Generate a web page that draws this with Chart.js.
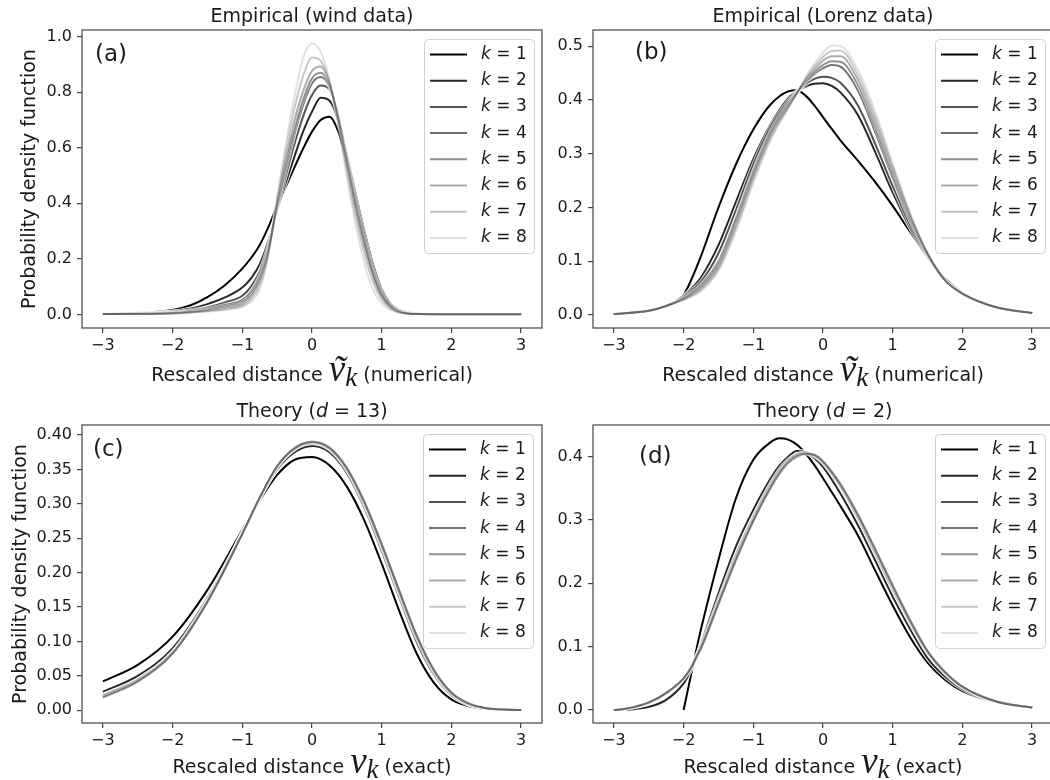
<!DOCTYPE html>
<html><head><meta charset="utf-8">
<script src="https://cdn.jsdelivr.net/npm/chart.js@4.4.1/dist/chart.umd.min.js"></script>
<style>
html,body{margin:0;padding:0;background:#fff;overflow:hidden;width:1050px;height:780px;position:relative;}
canvas{position:absolute;}
</style></head><body>
<canvas id="ca" width="550" height="390" style="left:0px;top:0px"></canvas>
<canvas id="cb" width="531" height="390" style="left:525px;top:0px"></canvas>
<canvas id="cc" width="550" height="390" style="left:0px;top:390px"></canvas>
<canvas id="cd" width="531" height="390" style="left:525px;top:390px"></canvas>
<script>
// ---------- data ----------
const kLabels = ['1','2','3','4','5','6','7','8'];
const xTicks = [-3,-2,-1,0,1,2,3];
const yTicksA = [0,0.2,0.4,0.6,0.8,1.0];
const yTicksB = [0,0.1,0.2,0.3,0.4,0.5];
const yTicksC = [0,0.05,0.10,0.15,0.20,0.25,0.30,0.35,0.40];
const yTicksD = [0,0.1,0.2,0.3,0.4];

// (a) Empirical (wind data)
const xWind = [-3,-2.5,-2,-1.75,-1.5,-1.25,-1,-0.875,-0.75,-0.625,-0.5,-0.375,-0.25,-0.125,0,0.125,0.25,0.375,0.5,0.625,0.75,0.875,1,1.125,1.25,1.5,2,2.5,3];
const windK1 = [0.003,0.006,0.016,0.032,0.062,0.105,0.165,0.203,0.250,0.315,0.390,0.460,0.530,0.598,0.658,0.700,0.712,0.660,0.550,0.430,0.300,0.180,0.090,0.040,0.017,0.004,0.001,0.0005,0.0003];
const windK2 = [0.002,0.004,0.010,0.020,0.037,0.061,0.097,0.130,0.180,0.265,0.375,0.475,0.570,0.660,0.730,0.780,0.770,0.700,0.575,0.435,0.300,0.180,0.090,0.040,0.016,0.003,0.0008,0.0004,0.0002];
const windK3 = [0.0015,0.003,0.008,0.015,0.025,0.043,0.067,0.100,0.155,0.250,0.380,0.500,0.615,0.715,0.790,0.824,0.810,0.715,0.570,0.420,0.285,0.165,0.082,0.036,0.014,0.002,0.0006,0.0003,0.0002];
const windK4 = [0.0012,0.0025,0.006,0.012,0.020,0.034,0.052,0.082,0.140,0.240,0.385,0.525,0.650,0.755,0.832,0.855,0.820,0.715,0.560,0.405,0.270,0.155,0.075,0.032,0.012,0.002,0.0005,0.0002,0.0001];
const windK5 = [0.001,0.002,0.005,0.010,0.017,0.028,0.044,0.072,0.130,0.232,0.390,0.540,0.670,0.775,0.850,0.870,0.825,0.712,0.552,0.395,0.260,0.147,0.070,0.029,0.011,0.0015,0.0004,0.0002,0.0001];
const windK6 = [0.001,0.002,0.004,0.008,0.014,0.023,0.037,0.063,0.120,0.228,0.400,0.560,0.700,0.805,0.877,0.893,0.832,0.705,0.540,0.380,0.245,0.137,0.064,0.026,0.009,0.001,0.0003,0.0001,0.0001];
const windK7 = [0.001,0.0015,0.0035,0.007,0.012,0.019,0.031,0.053,0.105,0.222,0.410,0.585,0.745,0.860,0.925,0.913,0.838,0.698,0.520,0.355,0.220,0.117,0.053,0.021,0.008,0.001,0.0002,0.0001,0.0001];
const windK8 = [0.001,0.0015,0.003,0.006,0.010,0.016,0.027,0.045,0.090,0.215,0.425,0.615,0.785,0.925,0.975,0.945,0.845,0.685,0.495,0.325,0.185,0.090,0.040,0.016,0.006,0.001,0.0002,0.0001,0.0001];

// (b) Empirical (Lorenz data)
const xLorenz = [-3,-2.5,-2.25,-2,-1.875,-1.75,-1.5,-1.25,-1,-0.75,-0.5,-0.375,-0.25,-0.125,0,0.125,0.25,0.5,0.75,1,1.25,1.5,1.75,2,2.5,3];
const lorK1 = [0.002,0.008,0.018,0.038,0.070,0.110,0.200,0.280,0.345,0.392,0.416,0.418,0.408,0.390,0.368,0.346,0.325,0.287,0.247,0.203,0.155,0.108,0.068,0.042,0.014,0.004];
const lorK2 = [0.002,0.008,0.017,0.036,0.051,0.070,0.130,0.210,0.290,0.355,0.403,0.416,0.425,0.430,0.431,0.426,0.414,0.372,0.303,0.228,0.162,0.108,0.064,0.040,0.014,0.004];
const lorK3 = [0.002,0.008,0.017,0.034,0.047,0.062,0.115,0.195,0.280,0.350,0.398,0.415,0.429,0.439,0.443,0.441,0.432,0.390,0.318,0.240,0.168,0.110,0.064,0.040,0.014,0.004];
const lorK4 = [0.002,0.008,0.017,0.032,0.043,0.056,0.100,0.180,0.268,0.343,0.394,0.414,0.432,0.448,0.459,0.465,0.462,0.418,0.340,0.255,0.175,0.112,0.065,0.040,0.014,0.004];
const lorK5 = [0.002,0.008,0.017,0.031,0.041,0.053,0.095,0.175,0.263,0.339,0.391,0.413,0.434,0.452,0.465,0.472,0.471,0.428,0.350,0.262,0.180,0.113,0.065,0.040,0.014,0.004];
const lorK6 = [0.002,0.008,0.017,0.030,0.039,0.050,0.090,0.168,0.258,0.335,0.388,0.413,0.437,0.457,0.473,0.481,0.481,0.438,0.360,0.270,0.184,0.114,0.065,0.040,0.014,0.004];
const lorK7 = [0.002,0.008,0.017,0.029,0.037,0.047,0.086,0.162,0.252,0.330,0.386,0.412,0.439,0.462,0.480,0.491,0.492,0.447,0.369,0.276,0.187,0.115,0.065,0.040,0.014,0.004];
const lorK8 = [0.002,0.008,0.017,0.028,0.035,0.044,0.082,0.155,0.245,0.325,0.384,0.412,0.442,0.467,0.488,0.501,0.500,0.456,0.378,0.282,0.190,0.115,0.065,0.040,0.014,0.004];

// (c) Theory (d = 13)
const xTheory13 = [-3,-2.5,-2,-1.5,-1,-0.75,-0.5,-0.25,0,0.25,0.5,0.75,1,1.25,1.5,1.75,2,2.25,2.5,3];
const d13K1 = [0.042,0.066,0.107,0.175,0.262,0.305,0.342,0.364,0.368,0.356,0.325,0.276,0.213,0.145,0.083,0.040,0.016,0.006,0.002,0.0003];
const d13K2 = [0.027,0.050,0.090,0.163,0.258,0.308,0.350,0.375,0.384,0.375,0.345,0.295,0.232,0.165,0.100,0.052,0.022,0.008,0.003,0.0004];
const d13K3 = [0.022,0.045,0.085,0.160,0.257,0.309,0.353,0.379,0.388,0.379,0.349,0.299,0.237,0.170,0.105,0.055,0.024,0.009,0.003,0.0004];
const d13K4 = [0.021,0.044,0.084,0.159,0.257,0.309,0.354,0.380,0.389,0.380,0.350,0.301,0.239,0.172,0.107,0.057,0.025,0.009,0.003,0.0004];
const d13K5 = [0.020,0.043,0.083,0.158,0.257,0.309,0.354,0.380,0.3895,0.381,0.351,0.302,0.240,0.173,0.108,0.058,0.025,0.009,0.003,0.0004];
const d13K6 = [0.019,0.042,0.083,0.158,0.256,0.309,0.355,0.381,0.390,0.381,0.352,0.303,0.241,0.174,0.109,0.058,0.026,0.010,0.003,0.0004];
const d13K7 = [0.0185,0.042,0.082,0.157,0.256,0.309,0.355,0.381,0.390,0.382,0.352,0.303,0.242,0.175,0.110,0.059,0.026,0.010,0.003,0.0004];
const d13K8 = [0.018,0.041,0.082,0.157,0.256,0.309,0.355,0.381,0.3905,0.382,0.353,0.304,0.242,0.175,0.110,0.059,0.026,0.010,0.003,0.0004];

// (d) Theory (d = 2)
const xTheory2 = [-3,-2.83,-2.5,-2.25,-2,-1.9,-1.8,-1.75,-1.5,-1.25,-1,-0.75,-0.625,-0.5,-0.375,-0.25,-0.125,0,0.25,0.5,0.75,1,1.25,1.5,1.75,2,2.5,3];
const d2K1 = [null,null,null,null,0,0.052,0.104,0.128,0.237,0.334,0.395,0.423,0.429,0.427,0.419,0.405,0.387,0.366,0.322,0.276,0.220,0.165,0.115,0.075,0.048,0.030,0.012,0.004];
const d2K2 = [null,0,0.005,0.016,0.042,0.062,0.088,0.104,0.184,0.258,0.316,0.366,0.386,0.400,0.409,0.407,0.398,0.384,0.342,0.292,0.236,0.179,0.128,0.082,0.053,0.033,0.012,0.004];
const d2K3 = [0,0.002,0.011,0.026,0.050,0.067,0.090,0.102,0.174,0.245,0.305,0.358,0.380,0.395,0.404,0.407,0.401,0.390,0.352,0.303,0.247,0.190,0.137,0.090,0.058,0.036,0.013,0.004];
const d2K4 = [0,0.002,0.011,0.026,0.050,0.066,0.089,0.100,0.171,0.241,0.302,0.355,0.377,0.393,0.403,0.406,0.402,0.391,0.354,0.305,0.250,0.193,0.139,0.091,0.059,0.036,0.013,0.004];
const d2K5 = [0,0.002,0.012,0.027,0.050,0.066,0.088,0.099,0.169,0.239,0.300,0.353,0.375,0.392,0.402,0.405,0.402,0.392,0.355,0.307,0.252,0.195,0.140,0.092,0.059,0.037,0.013,0.004];
const d2K6 = [0,0.002,0.012,0.027,0.050,0.065,0.087,0.098,0.168,0.237,0.299,0.352,0.374,0.391,0.401,0.405,0.403,0.392,0.356,0.308,0.253,0.196,0.141,0.093,0.060,0.037,0.013,0.004];
const d2K7 = [0,0.002,0.012,0.027,0.050,0.065,0.087,0.097,0.167,0.236,0.298,0.351,0.373,0.390,0.400,0.404,0.403,0.393,0.357,0.309,0.254,0.197,0.142,0.093,0.060,0.037,0.013,0.004];
const d2K8 = [0,0.002,0.012,0.027,0.050,0.065,0.086,0.096,0.166,0.235,0.297,0.350,0.372,0.389,0.399,0.404,0.403,0.393,0.358,0.310,0.255,0.198,0.143,0.094,0.061,0.037,0.013,0.004];

// ---------- style ----------
const ALPHAS = [1, 0.85, 0.68, 0.56, 0.44, 0.33, 0.22, 0.12];
const LW = 2;
const TXT = '#1a1a1a';
const AX = '#444444';
const SANS = '"DejaVu Sans"';
const F19 = '19px ' + SANS;
const F19I = 'italic 19px ' + SANS;
const NU = 'italic 37px "Liberation Serif"';
const SUBK = 'italic 27px "Liberation Serif"';

function makeDatasets(xs, rows){
  const ds = [];
  const n = rows.length;
  rows.forEach((ys, i) => {
    const pts = xs.map((x, j) => ({x: x, y: ys[j]}));
    const common = {data: pts, pointRadius: 0, pointHoverRadius: 0, fill: false, spanGaps: false, cubicInterpolationMode: 'monotone'};
    ds.push(Object.assign({label: 'halo ' + kLabels[i], borderColor: 'rgba(255,255,255,' + ALPHAS[i] + ')', borderWidth: LW + 2, order: 2*(n-i)}, common));
    ds.push(Object.assign({label: 'k = ' + kLabels[i], borderColor: 'rgba(0,0,0,' + ALPHAS[i] + ')', borderWidth: LW, order: 2*(n-i)-1}, common));
  });
  return ds;
}

// parts: [text, font, dy, extraGapAfter, tilde]
function drawRich(ctx, parts, cx, y){
  let w = 0;
  parts.forEach(p => { ctx.font = p[1]; w += ctx.measureText(p[0]).width + (p[3]||0); });
  let x = cx - w/2;
  ctx.textAlign = 'left'; ctx.textBaseline = 'alphabetic';
  parts.forEach(p => {
    ctx.font = p[1];
    const pw = ctx.measureText(p[0]).width;
    ctx.fillText(p[0], x, y + (p[2]||0));
    if (p[4]){
      ctx.save(); ctx.textAlign = 'center';
      ctx.fillText('\u02DC', x + pw/2 + 2, y + 1);
      ctx.restore();
    }
    x += pw + (p[3]||0);
  });
}

const deco = {
  id: 'deco',
  afterDatasetsDraw(chart, args, o){
    const ctx = chart.ctx, a = chart.chartArea;
    ctx.save();
    ctx.strokeStyle = AX; ctx.lineWidth = 1.2;
    ctx.strokeRect(a.left, a.top, a.right - a.left, a.bottom - a.top);
    const bw = 110, bh = 214;
    const bx = a.right - o.legRight - bw, by = a.top + 9;
    ctx.beginPath();
    ctx.roundRect(bx + 0.5, by + 0.5, bw, bh, 4);
    ctx.fillStyle = 'rgba(255,255,255,0.8)'; ctx.fill();
    ctx.strokeStyle = 'rgba(204,204,204,0.9)'; ctx.lineWidth = 1; ctx.stroke();
    for (let i = 0; i < kLabels.length; i++){
      const y = by + 15.5 + i*26.2;
      ctx.beginPath(); ctx.moveTo(bx + 6, y); ctx.lineTo(bx + 43, y);
      ctx.strokeStyle = 'rgba(0,0,0,' + ALPHAS[i] + ')'; ctx.lineWidth = LW; ctx.stroke();
      ctx.fillStyle = TXT; ctx.textBaseline = 'middle'; ctx.textAlign = 'left';
      ctx.font = 'italic 17px ' + SANS; ctx.fillText('k', bx + 57, y);
      const kw = ctx.measureText('k').width;
      ctx.font = '17px ' + SANS; ctx.fillText(' = ' + kLabels[i], bx + 57 + kw, y);
    }
    ctx.restore();
  },
  afterDraw(chart, args, o){
    const ctx = chart.ctx, a = chart.chartArea;
    const cx = (a.left + a.right)/2;
    ctx.save();
    ctx.fillStyle = TXT;
    drawRich(ctx, o.title, cx, a.top - 8);
    drawRich(ctx, o.xlabel, cx, a.bottom + o.xlabelDy);
    if (o.ylabelX){
      ctx.save();
      ctx.translate(o.ylabelX, (a.top + a.bottom)/2);
      ctx.rotate(-Math.PI/2);
      ctx.font = F19; ctx.textAlign = 'center'; ctx.textBaseline = 'middle';
      ctx.fillText('Probability density function', 0, 0);
      ctx.restore();
    }
    ctx.font = '23px ' + SANS; ctx.textAlign = 'left'; ctx.textBaseline = 'middle';
    ctx.fillText(o.panel, a.left + o.panelDx, a.top + o.panelDy);
    ctx.restore();
  }
};

function build(id, c){
  return new Chart(document.getElementById(id), {
    type: 'line',
    data: {datasets: makeDatasets(c.xs, c.rows)},
    options: {
      responsive: false, animation: false, devicePixelRatio: 1, events: [],
      layout: {padding: {top: c.padTop, right: c.padRight, left: 0, bottom: 0}},
      plugins: {legend: {display: false}, tooltip: {enabled: false}, title: {display: false}, deco: c.deco},
      scales: {
        x: {
          type: 'linear', min: -3.3, max: 3.3,
          afterBuildTicks: s => { s.ticks = xTicks.map(v => ({value: v})); },
          afterFit: s => { s.height = c.xH; },
          ticks: {autoSkip: false, maxRotation: 0, padding: 3, color: TXT, font: {family: 'DejaVu Sans', size: 16},
                  callback: v => String(v).replace('-', '\u2212')},
          grid: {drawOnChartArea: false, drawTicks: true, tickLength: 5, color: AX, lineWidth: 1.2},
          border: {display: false}
        },
        y: {
          type: 'linear', min: c.yMin, max: c.yMax,
          afterBuildTicks: s => { s.ticks = c.yTicks.map(v => ({value: v})); },
          afterFit: s => { s.width = c.yW; },
          ticks: {autoSkip: false, padding: 5, color: TXT, font: {family: 'DejaVu Sans', size: 16},
                  callback: v => Number(v).toFixed(c.dec)},
          grid: {drawOnChartArea: false, drawTicks: true, tickLength: 5, color: AX, lineWidth: 1.2},
          border: {display: false}
        }
      }
    },
    plugins: [deco]
  });
}

const xlabNum = [['Rescaled distance ', F19], ['\u03BD', NU, 0, 0, true], ['k', SUBK, 5, 6], ['(numerical)', F19]];
const xlabExact = [['Rescaled distance ', F19], ['\u03BD', NU], ['k', SUBK, 5, 6], ['(exact)', F19]];

build('ca', {xs: xWind, rows: [windK1,windK2,windK3,windK4,windK5,windK6,windK7,windK8],
  padTop: 30, padRight: 8, xH: 62, yW: 82, yMin: -0.049, yMax: 1.024, yTicks: yTicksA, dec: 1,
  deco: {title: [['Empirical (wind data)', F19]], xlabel: xlabNum, xlabelDy: 53, ylabelX: 30,
         panel: '(a)', panelDx: 13, panelDy: 25, legRight: 8}});
build('cb', {xs: xLorenz, rows: [lorK1,lorK2,lorK3,lorK4,lorK5,lorK6,lorK7,lorK8],
  padTop: 30, padRight: 3, xH: 62, yW: 68, yMin: -0.024, yMax: 0.53, yTicks: yTicksB, dec: 1,
  deco: {title: [['Empirical (Lorenz data)', F19]], xlabel: xlabNum, xlabelDy: 53, ylabelX: 0,
         panel: '(b)', panelDx: 42, panelDy: 23, legRight: 8}});
build('cc', {xs: xTheory13, rows: [d13K1,d13K2,d13K3,d13K4,d13K5,d13K6,d13K7,d13K8],
  padTop: 35, padRight: 8, xH: 57, yW: 82, yMin: -0.0184, yMax: 0.4145, yTicks: yTicksC, dec: 2,
  deco: {title: [['Theory (', F19], ['d', F19I], [' = 13)', F19]], xlabel: xlabExact, xlabelDy: 50, ylabelX: 21,
         panel: '(c)', panelDx: 11, panelDy: 25, legRight: 9}});
build('cd', {xs: xTheory2, rows: [d2K1,d2K2,d2K3,d2K4,d2K5,d2K6,d2K7,d2K8],
  padTop: 35, padRight: 3, xH: 57, yW: 68, yMin: -0.0205, yMax: 0.45, yTicks: yTicksD, dec: 1,
  deco: {title: [['Theory (', F19], ['d', F19I], [' = 2)', F19]], xlabel: xlabExact, xlabelDy: 50, ylabelX: 0,
         panel: '(d)', panelDx: 46, panelDy: 32, legRight: 8}});
</script>
</body></html>
